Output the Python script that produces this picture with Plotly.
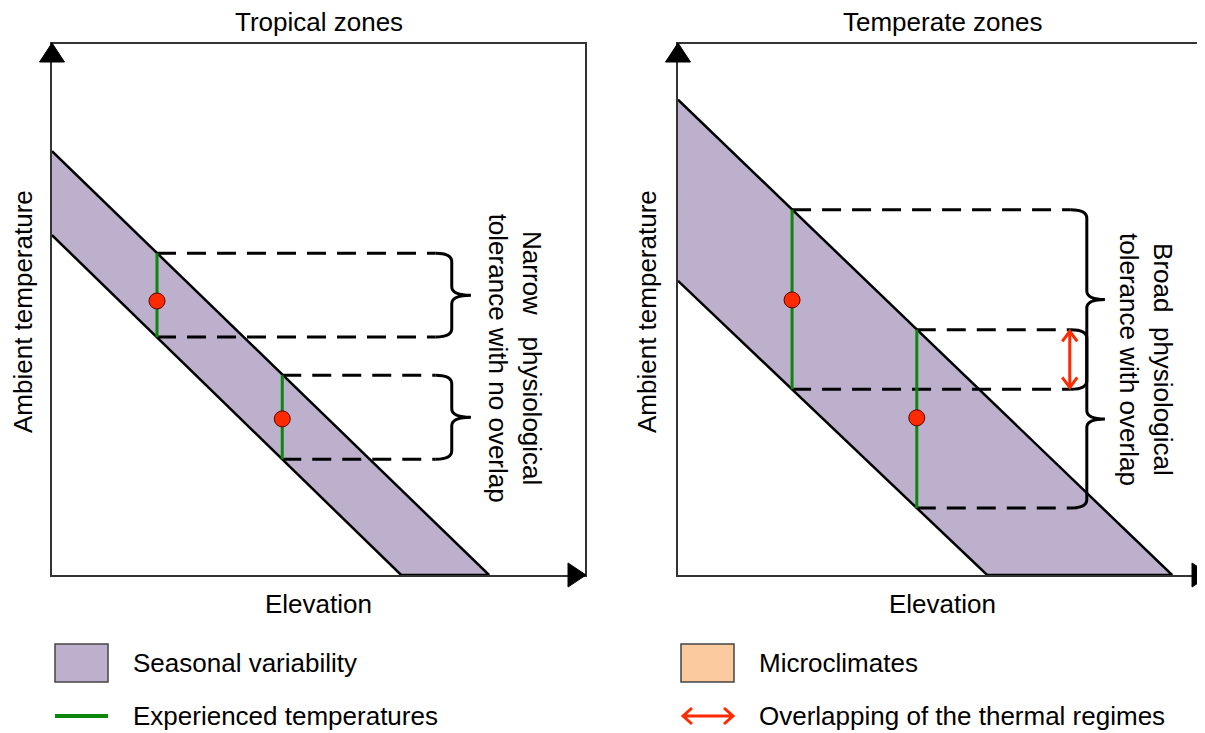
import plotly.graph_objects as go

# The page body has an 8px margin; the figure is sized to fit the 1205x733 window.
OX, OY = 8, 8
W, H = 1205 - OX, 733 - OY

# ---------------- data (axis units) ----------------
panel_titles = ["Tropical zones", "Temperate zones"]
x_title = "Elevation"
y_title = "Ambient temperature"

# tropical panel
trop_band_x = [0, 82.0, 65.5, 0]
trop_band_y = [79.8, 0, 0, 64.0]
trop_exp_x = [19.7, 43.2]
trop_exp_top = [60.6, 37.6]
trop_exp_bot = [44.8, 21.8]
trop_opt = [51.6, 29.4]
trop_brace_x = 75.0
trop_brace_tip = 78.6
trop_note = "Narrow\u00a0\u00a0\u00a0physiological<br>tolerance with no overlap"

# temperate panel
temp_band_x = [0, 92.7, 58.0, 0]
temp_band_y = [89.5, 0, 0, 55.4]
temp_exp_x = [21.4, 44.8]
temp_exp_top = [68.8, 46.2]
temp_exp_bot = [35.0, 12.6]
temp_opt = [51.8, 29.6]
temp_brace_x = 76.7
temp_brace_tip = 80.1
temp_overlap_x = 73.5
temp_note = "Broad\u00a0\u00a0physiological<br>tolerance with overlap"

legend_labels = ["Seasonal variability", "Experienced temperatures",
                 "Microclimates", "Overlapping of the thermal regimes"]

# ---------------- styles ----------------
PURPLE = "#BDB0CD"
ORANGE = "#FBCB9F"
GREEN = "#0B870B"
RED = "#FF2A00"
AXIS = "#333333"
FONT = "Liberation Sans, Arial, sans-serif"
FS = 26

fig = go.Figure()


def px(x):
    return (x - OX) / W


def py(y):
    return 1 - (y - OY) / H


def add_panel(xa, ya, bx, by, ex, etop, ebot, opt, bxv, btip):
    fig.add_trace(go.Scatter(x=bx, y=by, fill="toself", fillcolor=PURPLE, mode="lines",
                             line=dict(color="black", width=2.5), xaxis=xa, yaxis=ya,
                             hoverinfo="skip"))
    rx = 3.0
    dash_end = bxv - rx
    for i in range(len(ex)):
        for yv in (etop[i], ebot[i]):
            fig.add_trace(go.Scatter(x=[ex[i], dash_end], y=[yv, yv], mode="lines",
                                     line=dict(color="black", width=3, dash="19px,11px"),
                                     xaxis=xa, yaxis=ya, hoverinfo="skip"))
        fig.add_trace(go.Scatter(x=[ex[i], ex[i]], y=[ebot[i], etop[i]], mode="lines",
                                 line=dict(color=GREEN, width=3), xaxis=xa, yaxis=ya,
                                 hoverinfo="skip"))
        yt, yb = etop[i], ebot[i]
        ym = (yt + yb) / 2
        ry = 1.6
        path = (f"M {dash_end},{yt} Q {bxv},{yt} {bxv},{yt-ry} L {bxv},{ym+ry} "
                f"Q {bxv},{ym} {btip},{ym} M {btip},{ym} Q {bxv},{ym} {bxv},{ym-ry} "
                f"L {bxv},{yb+ry} Q {bxv},{yb} {dash_end},{yb}")
        fig.add_shape(type="path", path=path, xref=xa, yref=ya,
                      line=dict(color="black", width=3))
    fig.add_trace(go.Scatter(x=ex, y=opt, mode="markers",
                             marker=dict(color=RED, size=16, line=dict(color="#5a0000", width=1)),
                             xaxis=xa, yaxis=ya, hoverinfo="skip"))


add_panel("x", "y", trop_band_x, trop_band_y, trop_exp_x, trop_exp_top, trop_exp_bot,
          trop_opt, trop_brace_x, trop_brace_tip)
add_panel("x2", "y2", temp_band_x, temp_band_y, temp_exp_x, temp_exp_top, temp_exp_bot,
          temp_opt, temp_brace_x, temp_brace_tip)

# overlap double arrow (temperate)
ya_t = temp_exp_top[1] - 0.3
ya_b = temp_exp_bot[0] + 0.3
hx, hy = 1.4, 1.9
xo = temp_overlap_x
fig.add_trace(go.Scatter(
    x=[xo - hx, xo, xo + hx, None, xo, xo, None, xo - hx, xo, xo + hx],
    y=[ya_t - hy, ya_t, ya_t - hy, None, ya_t, ya_b, None, ya_b + hy, ya_b, ya_b + hy],
    mode="lines", line=dict(color=RED, width=3), xaxis="x2", yaxis="y2", hoverinfo="skip"))

# ---------------- axes ----------------
y_dom = [py(575), py(44)]
ax_common = dict(showgrid=False, zeroline=False, showticklabels=False, ticks="",
                 showline=True, linecolor=AXIS, linewidth=1.5, fixedrange=True)
fig.update_layout(
    xaxis=dict(domain=[px(52), px(585)], range=[0, 100], mirror=True, anchor="y", **ax_common),
    yaxis=dict(domain=y_dom, range=[0, 100], mirror=True, anchor="x", **ax_common),
    xaxis2=dict(domain=[px(678), 1.0], range=[0, 527 / 5.33], mirror=True, anchor="y2", **ax_common),
    yaxis2=dict(domain=y_dom, range=[0, 100], mirror=False, anchor="x2", **ax_common),
)

# axis arrowheads
for xr, yr, extra in (("x", "y", 0), ("x2", "y2", 4)):
    fig.add_shape(type="path", xref=f"{xr} domain", yref=f"{yr} domain",
                  xsizemode="pixel", ysizemode="pixel", xanchor=0, yanchor=1,
                  path="M -12.5,-18 L 12.5,-18 L 0,1 Z",
                  fillcolor="black", line=dict(color="black", width=1))
    fig.add_shape(type="path", xref=f"{xr} domain", yref=f"{yr} domain",
                  xsizemode="pixel", ysizemode="pixel", xanchor=1, yanchor=0,
                  path=f"M {extra-17},12 L {extra-17},-12 L {extra+1},0 Z",
                  fillcolor="black", line=dict(color="black", width=1))

# ---------------- text ----------------
ann = []
tfont = dict(family=FONT, size=FS, color="black")


def label(x, y, text, **kw):
    d = dict(x=px(x), y=py(y), xref="paper", yref="paper", text=text, showarrow=False,
             font=tfont, xanchor="center", yanchor="middle")
    d.update(kw)
    ann.append(d)


for cx, ty in ((318.5, panel_titles[0]), (942, panel_titles[1])):
    label(cx, 22, ty)
    label(cx, 604, x_title)
for cx in (23, 647):
    label(cx, 312, y_title, textangle=-90)
ann.append(dict(x=86.9, y=40.9, xref="x", yref="y", text=trop_note, textangle=90,
                showarrow=False, font=tfont, xanchor="center", yanchor="middle"))
ann.append(dict(x=87.8, y=40.5, xref="x2", yref="y2", text=temp_note, textangle=90,
                showarrow=False, font=tfont, xanchor="center", yanchor="middle"))

# ---------------- legend (drawn manually) ----------------
row1, row2 = 663, 716
sq_w, sq_h = 53, 38
for lx, color, lab in ((55, PURPLE, legend_labels[0]), (681, ORANGE, legend_labels[2])):
    fig.add_shape(type="rect", xref="paper", yref="paper",
                  x0=px(lx), x1=px(lx + sq_w), y0=py(row1 + sq_h / 2), y1=py(row1 - sq_h / 2),
                  fillcolor=color, line=dict(color="#444444", width=1.5))
    label(lx + 76, row1, lab, xanchor="left")
fig.add_shape(type="line", xref="paper", yref="paper", x0=px(55), x1=px(108),
              y0=py(row2), y1=py(row2), line=dict(color=GREEN, width=4))
label(131, row2, legend_labels[1], xanchor="left")
ax0, ax1 = 683, 733
fig.add_shape(type="path", xref="paper", yref="paper",
              path=(f"M {px(ax0)},{py(row2)} L {px(ax1)},{py(row2)} "
                    f"M {px(ax0 + 9)},{py(row2 - 8)} L {px(ax0)},{py(row2)} L {px(ax0 + 9)},{py(row2 + 8)} "
                    f"M {px(ax1 - 9)},{py(row2 - 8)} L {px(ax1)},{py(row2)} L {px(ax1 - 9)},{py(row2 + 8)}"),
              line=dict(color=RED, width=3))
label(757, row2, legend_labels[3], xanchor="left")

fig.update_layout(
    width=W, height=H, margin=dict(l=0, r=0, t=0, b=0),
    paper_bgcolor="white", plot_bgcolor="white", showlegend=False,
    annotations=ann, font=dict(family=FONT),
)

fig.write_html("out.html")
